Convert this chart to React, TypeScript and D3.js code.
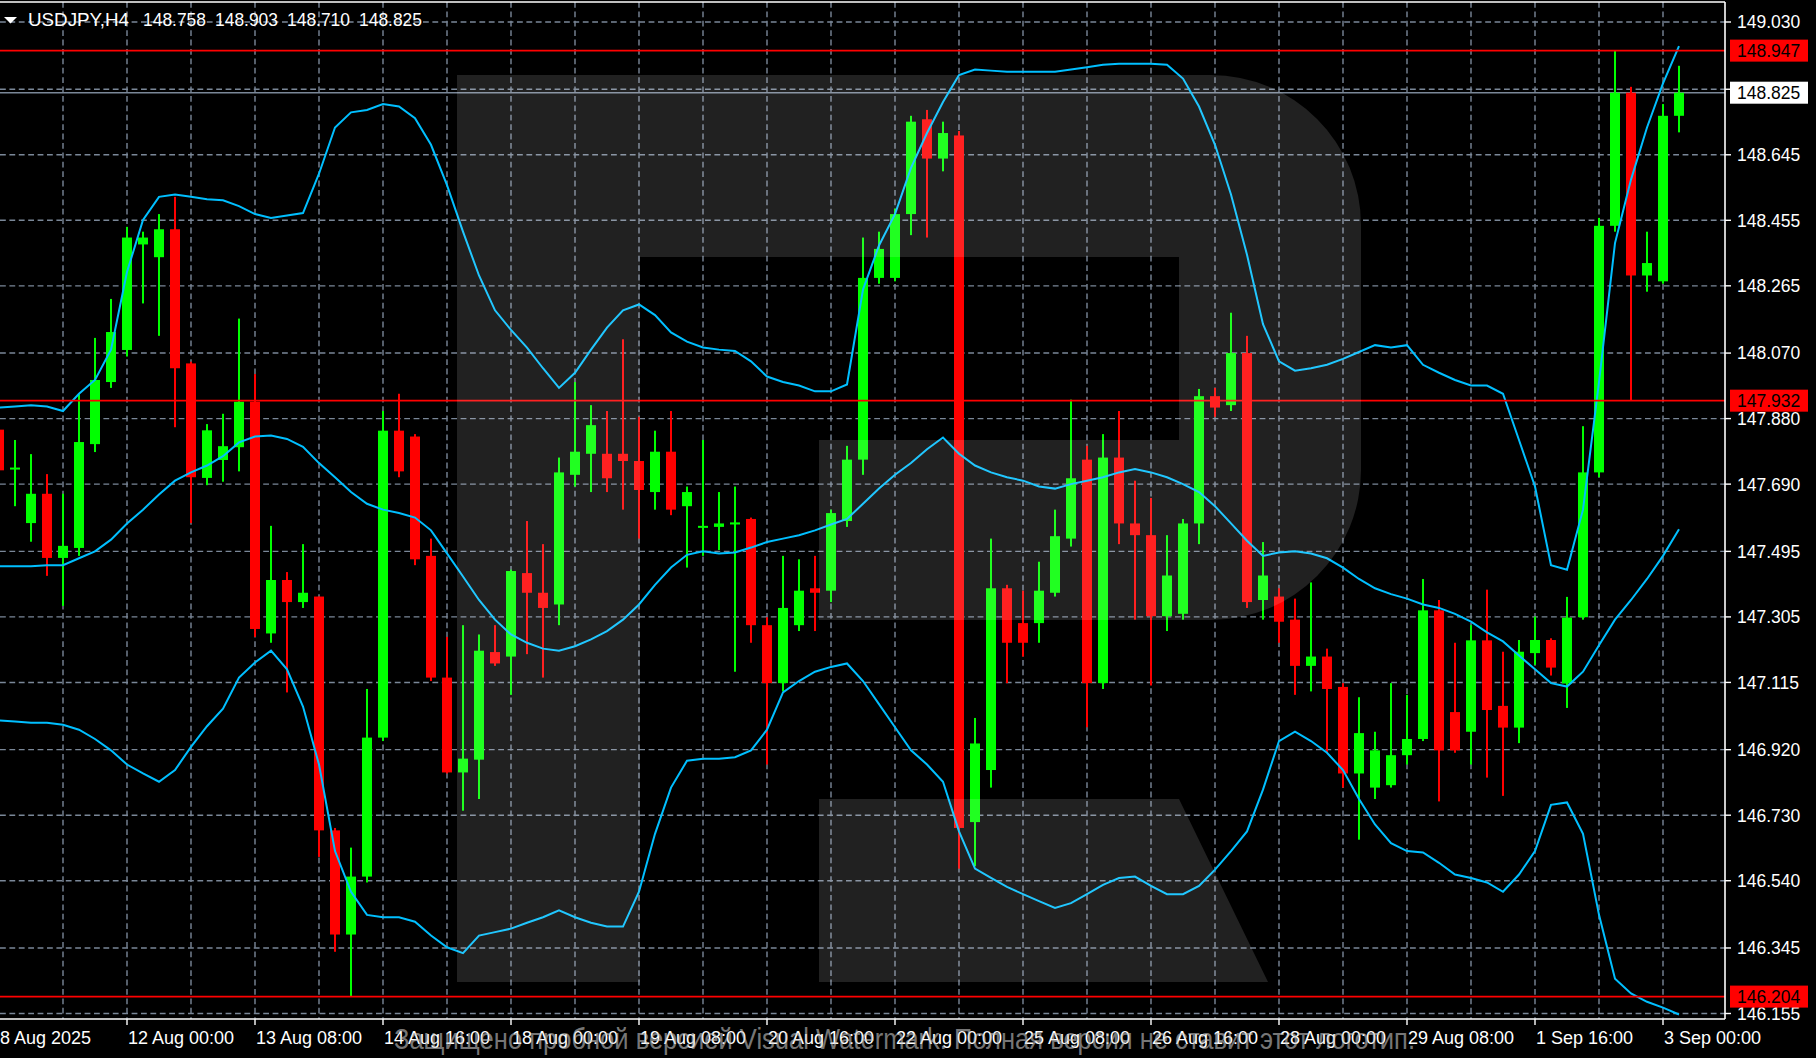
import React, { useEffect } from 'react';
import * as d3 from 'd3';

const W = 1816;
const H = 1058;

const symbolTitle = 'USDJPY,H4';
const titleValues = ['148.758', '148.903', '148.710', '148.825'];

const opens = [
  147.848, 147.735, 147.577, 147.662, 147.476, 147.505, 147.806, 147.986, 148.079, 148.385,
  148.348, 148.429, 148.040, 147.708, 147.760, 147.797, 147.929, 147.257, 147.412, 147.348,
  147.364, 146.686, 146.384, 146.552, 146.955, 147.845, 147.828, 147.482, 147.129, 146.854,
  146.891, 147.203, 147.190, 147.432, 147.375, 147.341, 147.717, 147.778, 147.778, 147.778,
  147.757, 147.667, 147.784, 147.626, 147.566, 147.566, 147.573, 147.589, 147.281, 147.113,
  147.281, 147.388, 147.381, 147.583, 147.761, 148.288, 148.288, 148.473, 148.748, 148.634,
  148.701, 146.710, 146.861, 147.388, 147.287, 147.287, 147.375, 147.532, 147.761, 147.113,
  147.767, 147.576, 147.542, 147.307, 147.314, 147.576, 147.945, 147.919, 148.070, 147.354,
  147.364, 147.297, 147.163, 147.190, 147.102, 146.851, 146.810, 146.817, 146.904, 146.951,
  147.324, 147.029, 146.972, 147.237, 147.047, 146.984, 147.200, 147.238, 147.112, 147.304,
  147.724, 148.439, 148.825, 148.295, 148.278, 148.758,
];
const highs = [
  147.868, 147.818, 147.777, 147.719, 147.662, 147.951, 148.114, 148.227, 148.436, 148.422,
  148.473, 148.523, 148.045, 147.864, 147.894, 148.170, 148.009, 147.569, 147.435, 147.516,
  147.364, 146.693, 146.636, 147.096, 147.902, 147.952, 147.835, 147.532, 147.247, 147.281,
  147.254, 147.281, 147.442, 147.583, 147.516, 147.767, 147.986, 147.919, 147.902, 148.110,
  147.885, 147.845, 147.902, 147.683, 147.818, 147.667, 147.683, 147.593, 147.304, 147.482,
  147.472, 147.482, 147.616, 147.801, 148.405, 148.422, 148.489, 148.758, 148.775, 148.741,
  148.714, 147.012, 147.532, 147.398, 147.381, 147.465, 147.616, 147.935, 147.801, 147.835,
  147.902, 147.700, 147.650, 147.542, 147.589, 147.966, 147.969, 148.187, 148.120, 147.522,
  147.388, 147.358, 147.405, 147.213, 147.113, 147.072, 146.972, 147.113, 147.079, 147.415,
  147.354, 147.230, 147.281, 147.384, 147.204, 147.238, 147.306, 147.243, 147.363, 147.858,
  148.462, 148.947, 148.842, 148.422, 148.792, 148.903,
];
const lows = [
  147.697, 147.626, 147.523, 147.424, 147.337, 147.482, 147.783, 147.969, 148.060, 148.214,
  148.120, 147.855, 147.577, 147.687, 147.697, 147.727, 147.247, 147.230, 147.086, 147.331,
  146.609, 146.334, 146.204, 146.535, 146.945, 147.710, 147.455, 147.119, 146.851, 146.743,
  146.777, 147.163, 147.079, 147.197, 147.129, 147.281, 147.683, 147.667, 147.667, 147.616,
  147.532, 147.616, 147.600, 147.448, 147.482, 147.499, 147.146, 147.230, 146.877, 147.089,
  147.264, 147.264, 147.348, 147.566, 147.717, 148.271, 148.278, 148.412, 148.405, 148.597,
  146.575, 146.582, 146.810, 147.113, 147.190, 147.230, 147.364, 147.509, 146.985, 147.096,
  147.516, 147.297, 147.106, 147.264, 147.297, 147.516, 147.885, 147.902, 147.331, 147.297,
  147.230, 147.079, 147.089, 146.911, 146.810, 146.659, 146.777, 146.810, 146.877, 146.945,
  146.770, 146.911, 146.877, 146.839, 146.786, 146.939, 147.166, 147.135, 147.041, 147.297,
  147.710, 148.422, 147.932, 148.248, 148.271, 148.710,
];
const closes = [
  147.730, 147.738, 147.662, 147.476, 147.511, 147.812, 147.992, 148.131, 148.405, 148.405,
  148.429, 148.026, 147.710, 147.846, 147.800, 147.929, 147.270, 147.412, 147.348, 147.375,
  146.686, 146.384, 146.552, 146.955, 147.845, 147.727, 147.472, 147.129, 146.854, 146.894,
  147.207, 147.170, 147.438, 147.375, 147.331, 147.724, 147.784, 147.861, 147.707, 147.757,
  147.673, 147.784, 147.616, 147.667, 147.569, 147.576, 147.579, 147.281, 147.113, 147.331,
  147.381, 147.375, 147.606, 147.761, 148.288, 148.372, 148.473, 148.741, 148.634, 148.708,
  146.693, 146.938, 147.388, 147.230, 147.230, 147.381, 147.539, 147.707, 147.113, 147.767,
  147.576, 147.542, 147.307, 147.425, 147.576, 147.945, 147.912, 148.070, 147.348, 147.425,
  147.291, 147.163, 147.190, 147.096, 146.851, 146.968, 146.918, 146.904, 146.951, 147.324,
  146.918, 146.918, 147.237, 147.035, 146.984, 147.204, 147.238, 147.158, 147.303, 147.724,
  148.439, 148.825, 148.295, 148.331, 148.758, 148.825,
];

const upperBand = [
  147.912, 147.915, 147.919, 147.915, 147.902, 147.952, 147.992, 148.080, 148.305, 148.456,
  148.523, 148.530, 148.523, 148.516, 148.513, 148.496, 148.473, 148.462, 148.469, 148.476,
  148.590, 148.724, 148.768, 148.775, 148.792, 148.785, 148.751, 148.674, 148.557, 148.422,
  148.295, 148.194, 148.137, 148.086, 148.026, 147.969, 148.013, 148.080, 148.144, 148.194,
  148.211, 148.180, 148.130, 148.103, 148.086, 148.080, 148.076, 148.046, 148.002, 147.986,
  147.976, 147.959, 147.959, 147.979, 148.254, 148.382, 148.473, 148.607, 148.708, 148.798,
  148.876, 148.892, 148.889, 148.886, 148.886, 148.886, 148.886, 148.892, 148.899, 148.906,
  148.909, 148.909, 148.909, 148.906, 148.866, 148.785, 148.674, 148.530, 148.355, 148.154,
  148.046, 148.019, 148.026, 148.036, 148.053, 148.073, 148.093, 148.086, 148.093, 148.036,
  148.013, 147.992, 147.976, 147.976, 147.952, 147.818, 147.683, 147.455, 147.442, 147.616,
  147.986, 148.389, 148.573, 148.724, 148.852, 148.960,
];
const middleBand = [
  147.452, 147.452, 147.452, 147.455, 147.455, 147.475, 147.495, 147.529, 147.576, 147.616,
  147.660, 147.700, 147.724, 147.744, 147.771, 147.811, 147.828, 147.831, 147.821, 147.798,
  147.751, 147.710, 147.667, 147.633, 147.616, 147.606, 147.593, 147.556, 147.489, 147.422,
  147.354, 147.297, 147.254, 147.230, 147.213, 147.207, 147.220, 147.240, 147.264, 147.297,
  147.341, 147.398, 147.448, 147.485, 147.495, 147.489, 147.492, 147.506, 147.522, 147.532,
  147.542, 147.556, 147.573, 147.589, 147.633, 147.677, 147.717, 147.751, 147.791, 147.825,
  147.778, 147.744, 147.724, 147.710, 147.700, 147.683, 147.677, 147.690, 147.700, 147.710,
  147.724, 147.734, 147.724, 147.710, 147.690, 147.667, 147.626, 147.576, 147.526, 147.482,
  147.492, 147.495, 147.489, 147.475, 147.448, 147.415, 147.388, 147.371, 147.358, 147.341,
  147.331, 147.314, 147.291, 147.260, 147.234, 147.193, 147.153, 147.113, 147.103, 147.146,
  147.223, 147.297, 147.354, 147.415, 147.482, 147.559,
];
const lowerBand = [
  147.005, 147.002, 146.998, 146.998, 146.992, 146.978, 146.951, 146.918, 146.877, 146.851,
  146.827, 146.861, 146.928, 146.988, 147.039, 147.129, 147.173, 147.207, 147.153, 147.045,
  146.877, 146.626, 146.508, 146.441, 146.434, 146.434, 146.421, 146.381, 146.347, 146.330,
  146.381, 146.391, 146.401, 146.418, 146.434, 146.454, 146.434, 146.418, 146.407, 146.407,
  146.508, 146.676, 146.810, 146.888, 146.894, 146.894, 146.898, 146.918, 146.978, 147.086,
  147.119, 147.146, 147.160, 147.170, 147.119, 147.052, 146.985, 146.918, 146.877, 146.827,
  146.683, 146.575, 146.548, 146.522, 146.501, 146.481, 146.461, 146.475, 146.501, 146.528,
  146.548, 146.552, 146.525, 146.501, 146.501, 146.525, 146.572, 146.626, 146.683, 146.804,
  146.945, 146.972, 146.945, 146.911, 146.861, 146.777, 146.703, 146.649, 146.626, 146.622,
  146.592, 146.558, 146.548, 146.535, 146.508, 146.558, 146.626, 146.760, 146.767, 146.676,
  146.441, 146.256, 146.213, 146.189, 146.172, 146.152,
];

const priceTicks = [
  149.030, 148.835, 148.645, 148.455, 148.265, 148.070, 147.880, 147.690,
  147.495, 147.305, 147.115, 146.920, 146.730, 146.540, 146.345, 146.155,
];
const timeLabels = [
  '8 Aug 2025', '12 Aug 00:00', '13 Aug 08:00', '14 Aug 16:00', '18 Aug 00:00',
  '19 Aug 08:00', '20 Aug 16:00', '22 Aug 00:00', '25 Aug 08:00', '26 Aug 16:00',
  '28 Aug 00:00', '29 Aug 08:00', '1 Sep 16:00', '3 Sep 00:00',
];
const levelLines = [148.947, 147.932, 146.204];
const bidPrice = 148.825;
const watermarkText =
  'Защищено пробной версией Visual Watermark. Полная версия не ставит этот логотип.';

const FONT = '"Liberation Sans", Arial, sans-serif';

export default function App() {
  useEffect(() => {
    document.body.style.margin = '0';
    document.body.style.background = '#000';
    document.body.style.overflow = 'hidden';
  }, []);

  const plotLeft = 0;
  const plotRight = 1725;
  const plotTop = 2;
  const plotBottom = 1019;

  const n = opens.length;
  const x = d3.scaleLinear().domain([0, n - 1]).range([-1, 1679]);
  const y = d3.scaleLinear().domain([146.155, 149.03]).range([1013.5, 22]);

  const bandLine = d3
    .line<number>()
    .x((_, i) => x(i))
    .y((d) => y(d));

  const gridColor = '#7a8798';
  const dash = '5.8 3.6';
  const bodyW = 10;

  const vGrid = d3.range(4, n, 4);
  const labelIdx = timeLabels.map((_, k) => k * 8);

  const rr = 150;
  const logoPath = [
    `M457,75`,
    `L${1361 - rr},75`,
    `A${rr},${rr} 0 0 1 1361,${75 + rr}`,
    `L1361,${620 - rr}`,
    `A${rr},${rr} 0 0 1 ${1361 - rr},620`,
    `L819,620`,
    `L819,440`,
    `L1179,440`,
    `L1179,257`,
    `L640,257`,
    `L640,982`,
    `L457,982`,
    'Z',
    `M819,799 L1179,799 L1268,982 L819,982 Z`,
  ].join(' ');

  return (
    <div style={{ position: 'fixed', left: 0, top: 0, width: W, height: H, background: '#000' }}>
      <svg width={W} height={H} style={{ display: 'block' }} fontFamily={FONT}>
        <defs>
          <clipPath id="plot">
            <rect x={plotLeft} y={plotTop} width={plotRight - plotLeft} height={plotBottom - plotTop} />
          </clipPath>
        </defs>
        <rect x={0} y={0} width={W} height={H} fill="#000" />

        <g clipPath="url(#plot)">
          {/* grid */}
          {priceTicks.map((t) => (
            <line
              key={'hg' + t}
              x1={plotLeft}
              x2={plotRight}
              y1={y(t)}
              y2={y(t)}
              stroke={gridColor}
              strokeWidth={1.4}
              strokeDasharray={dash}
            />
          ))}
          {vGrid.map((i) => (
            <line
              key={'vg' + i}
              x1={x(i)}
              x2={x(i)}
              y1={plotTop}
              y2={plotBottom}
              stroke={gridColor}
              strokeWidth={1.4}
              strokeDasharray={dash}
            />
          ))}

          {/* bid line */}
          <line x1={plotLeft} x2={plotRight} y1={y(bidPrice)} y2={y(bidPrice)} stroke={gridColor} strokeWidth={1.6} />

          {/* candles */}
          {opens.map((o, i) => {
            const c = closes[i];
            const up = c >= o;
            const col = up ? '#00ff00' : '#ff0000';
            const cx = x(i);
            const yTop = y(Math.max(o, c));
            const yBot = y(Math.min(o, c));
            const bh = Math.max(2, yBot - yTop);
            return (
              <g key={'c' + i}>
                <rect x={cx - 1} y={y(highs[i])} width={2} height={y(lows[i]) - y(highs[i])} fill={col} />
                <rect x={cx - bodyW / 2} y={yTop} width={bodyW} height={bh} fill={col} />
              </g>
            );
          })}

          {/* Bollinger bands */}
          {[upperBand, middleBand, lowerBand].map((arr, k) => (
            <path key={'b' + k} d={bandLine(arr) || ''} fill="none" stroke="#00bfff" strokeWidth={2} />
          ))}

          {/* level lines */}
          {levelLines.map((v) => (
            <line key={'lv' + v} x1={plotLeft} x2={plotRight} y1={y(v)} y2={y(v)} stroke="#ff0000" strokeWidth={1.6} />
          ))}
        </g>

        {/* frame */}
        <line x1={-2} x2={plotRight} y1={plotTop} y2={plotTop} stroke="#fff" strokeWidth={1.6} />
        <line x1={plotRight} x2={plotRight} y1={plotTop} y2={plotBottom} stroke="#fff" strokeWidth={1.6} />
        <line x1={-2} x2={plotRight} y1={plotBottom} y2={plotBottom} stroke="#fff" strokeWidth={1.6} />

        {/* price axis */}
        {priceTicks.map((t) => (
          <g key={'pt' + t}>
            <line x1={plotRight} x2={plotRight + 6} y1={y(t)} y2={y(t)} stroke="#fff" strokeWidth={1.4} />
            <text x={1737} y={y(t) + 6.4} fill="#fff" fontSize={17.5}>
              {t.toFixed(3)}
            </text>
          </g>
        ))}
        {levelLines.map((v) => (
          <g key={'lb' + v}>
            <rect x={1730} y={y(v) - 11} width={78} height={22} fill="#ff0000" />
            <text x={1737} y={y(v) + 6.4} fill="#000" fontSize={17.5}>
              {v.toFixed(3)}
            </text>
          </g>
        ))}
        <rect x={1730} y={y(bidPrice) - 11} width={78} height={22} fill="#fff" />
        <text x={1737} y={y(bidPrice) + 6.4} fill="#000" fontSize={17.5}>
          {bidPrice.toFixed(3)}
        </text>

        {/* time axis */}
        {labelIdx.map((i, k) => (
          <g key={'tl' + i}>
            {k > 0 && <line x1={x(i)} x2={x(i)} y1={plotBottom} y2={plotBottom + 6} stroke="#fff" strokeWidth={1.4} />}
            <text x={x(i) + 1} y={1044} fill="#fff" fontSize={18}>
              {timeLabels[k]}
            </text>
          </g>
        ))}

        {/* header */}
        <path d="M4,17 L17,17 L10.5,23.5 Z" fill="#fff" />
        <text x={28} y={26} fill="#fff" fontSize={17.5} textLength={101} lengthAdjust="spacingAndGlyphs">
          {symbolTitle}
        </text>
        {titleValues.map((v, k) => (
          <text key={'tv' + k} x={143 + k * 72} y={26} fill="#fff" fontSize={17.5} textLength={63} lengthAdjust="spacingAndGlyphs">
            {v}
          </text>
        ))}

        {/* watermark */}
        <path d={logoPath} fill="#fff" fillOpacity={0.13} />
        <text
          x={394}
          y={1049}
          fontSize={29}
          fill="#c8c8c8"
          fillOpacity={0.6}
          textLength={1021}
          lengthAdjust="spacingAndGlyphs"
        >
          {watermarkText}
        </text>
      </svg>
    </div>
  );
}
